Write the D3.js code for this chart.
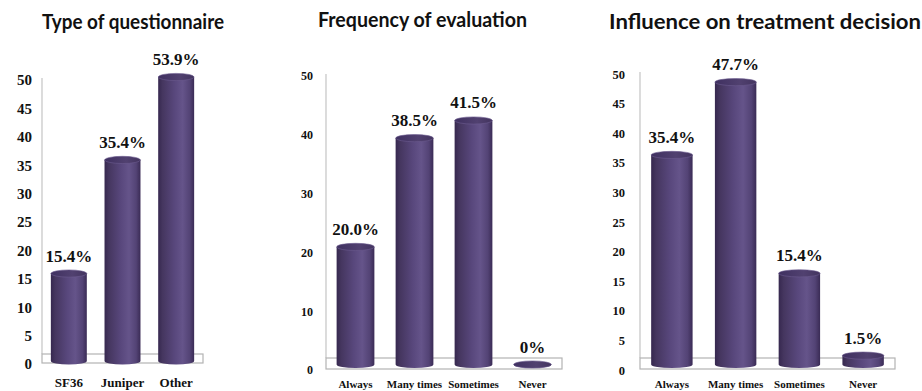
<!DOCTYPE html>
<html>
<head>
<meta charset="utf-8">
<script src="https://cdn.jsdelivr.net/npm/d3@7"></script>
<style>
  html, body { margin: 0; padding: 0; background: #fff; }
  svg { display: block; }
</style>
</head>
<body>
<svg id="chart" width="922" height="391"></svg>
<script>
// ---------- data ----------
const titles = ["Type of questionnaire", "Frequency of evaluation", "Influence on treatment decision"];

const categories1 = ["SF36", "Juniper", "Other"];
const values1 = [15.4, 35.4, 53.9];

const categories2 = ["Always", "Many times", "Sometimes", "Never"];
const values2 = [20.0, 38.5, 41.5, 0];

const categories3 = ["Always", "Many times", "Sometimes", "Never"];
const values3 = [35.4, 47.7, 15.4, 1.5];

const ticks1 = [0, 5, 10, 15, 20, 25, 30, 35, 40, 45, 50];
const ticks2 = [0, 10, 20, 30, 40, 50];
const ticks3 = [0, 5, 10, 15, 20, 25, 30, 35, 40, 45, 50];

const axisMax = 50;

// ---------- layout / style ----------
const SERIF = '"Liberation Serif"';
const SANS = '"Lato"';

const panels = [
  { title: titles[0], cats: categories1, vals: values1, ticks: ticks1,
    left: 42, right: 203, y0: 364, yMax: 80, floorTop: 354, floorBottom: 363, offset: 3,
    tickFont: 15, tickPad: 10, catFont: 13, catY: 387, barFrac: 0.67,
    titleX0: 42, titleX1: 224, titleY: 29 },
  { title: titles[1], cats: categories2, vals: values2, ticks: ticks2,
    left: 326, right: 562, y0: 370, yMax: 76, floorTop: 358, floorBottom: 369, offset: 5.5,
    tickFont: 12, tickPad: 13, catFont: 11, catY: 388, barFrac: 0.64,
    titleX0: 318, titleX1: 527, titleY: 27 },
  { title: titles[2], cats: categories3, vals: values3, ticks: ticks3,
    left: 640, right: 895, y0: 370, yMax: 74, floorTop: 358, floorBottom: 369, offset: 5.5,
    tickFont: 12.5, tickPad: 15, catFont: 11, catY: 388, barFrac: 0.65,
    titleX0: 609, titleX1: 921, titleY: 29 }
];

const svg = d3.select("#chart");
const defs = svg.append("defs");

const bodyGrad = defs.append("linearGradient").attr("id", "cylBody")
  .attr("x1", "0%").attr("x2", "100%").attr("y1", "0%").attr("y2", "0%");
[["0%", "#36284f"], ["12%", "#45365f"], ["45%", "#58477c"], ["68%", "#65548a"], ["88%", "#534375"], ["100%", "#3a2b55"]]
  .forEach(([o, c]) => bodyGrad.append("stop").attr("offset", o).attr("stop-color", c));

const topGrad = defs.append("linearGradient").attr("id", "cylTop")
  .attr("x1", "0%").attr("x2", "100%").attr("y1", "0%").attr("y2", "0%");
[["0%", "#3f3060"], ["60%", "#514170"], ["100%", "#43345f"]]
  .forEach(([o, c]) => topGrad.append("stop").attr("offset", o).attr("stop-color", c));

const fmt = v => v === 0 ? "0%" : v.toFixed(1) + "%";

panels.forEach(p => {
  const g = svg.append("g");
  const y = d3.scaleLinear().domain([0, axisMax]).range([p.y0, p.yMax]);
  const x = d3.scaleBand().domain(p.cats).range([p.left, p.right]).padding(0);

  // title
  g.append("text")
    .attr("x", (p.titleX0 + p.titleX1) / 2).attr("y", p.titleY)
    .attr("text-anchor", "middle")
    .attr("font-family", SANS).attr("font-weight", "bold").attr("font-size", 21)
    .attr("textLength", p.titleX1 - p.titleX0)
    .attr("lengthAdjust", "spacingAndGlyphs")
    .attr("fill", "#111")
    .text(p.title);

  // wall axis line
  g.append("line")
    .attr("x1", p.left).attr("x2", p.left)
    .attr("y1", y(axisMax) - 2).attr("y2", p.floorTop)
    .attr("stroke", "#c4c4c4").attr("stroke-width", 1.2);

  // floor
  g.append("rect")
    .attr("x", p.left).attr("y", p.floorTop)
    .attr("width", p.right - p.left).attr("height", p.floorBottom - p.floorTop)
    .attr("fill", "#fff").attr("stroke", "#b3b3b3").attr("stroke-width", 1.2);

  // y axis tick labels
  const ax = g.append("g")
    .attr("transform", `translate(${p.left},0)`)
    .call(d3.axisLeft(y).tickValues(p.ticks).tickSize(0).tickPadding(p.tickPad));
  ax.attr("font-family", SERIF).attr("font-size", p.tickFont).attr("font-weight", "bold");
  ax.select(".domain").remove();
  ax.selectAll("text")
    .attr("font-family", SERIF).attr("font-weight", "bold").attr("font-size", p.tickFont)
    .attr("fill", "#111");

  // category labels
  g.selectAll(".cat").data(p.cats).enter().append("text")
    .attr("x", d => x(d) + x.bandwidth() / 2).attr("y", p.catY)
    .attr("text-anchor", "middle")
    .attr("font-family", SERIF).attr("font-weight", "bold").attr("font-size", p.catFont)
    .attr("fill", "#111")
    .text(d => d);

  // cylinders
  const bw = x.bandwidth() * p.barFrac;
  const rx = bw / 2, ry = 3.6;
  p.vals.forEach((v, i) => {
    const cx = x(p.cats[i]) + x.bandwidth() / 2;
    const yb = y(0) - p.offset;
    const yt = y(Math.min(v, axisMax)) - p.offset;
    const x0 = cx - rx, x1 = cx + rx;
    g.append("path")
      .attr("d", `M${x0},${yt} L${x0},${yb} A${rx},${ry} 0 0 0 ${x1},${yb} L${x1},${yt} Z`)
      .attr("fill", "url(#cylBody)");
    g.append("ellipse")
      .attr("cx", cx).attr("cy", yt).attr("rx", rx).attr("ry", ry)
      .attr("fill", "url(#cylTop)")
      .attr("stroke", "#6b5a8e").attr("stroke-width", 0.6);
    g.append("text")
      .attr("x", cx).attr("y", yt - 12)
      .attr("text-anchor", "middle")
      .attr("font-family", SERIF).attr("font-weight", "bold").attr("font-size", 17)
      .attr("fill", "#111")
      .text(fmt(v));
  });
});
</script>
</body>
</html>
